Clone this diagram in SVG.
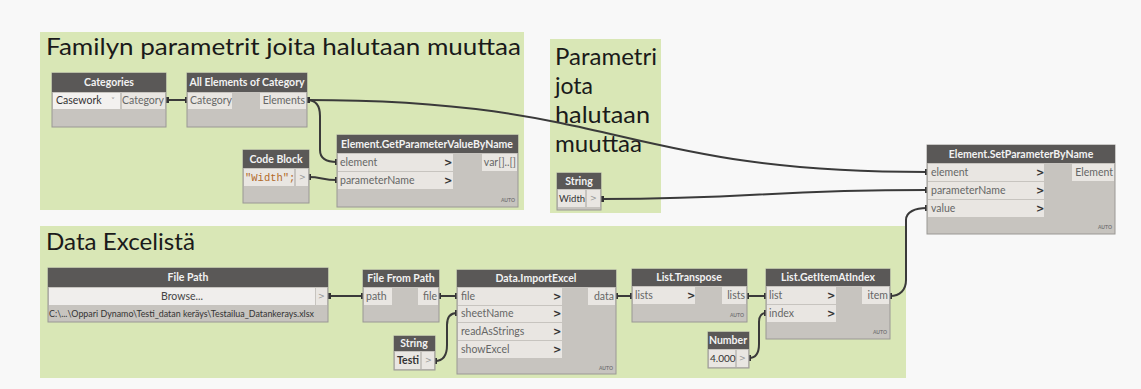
<svg xmlns="http://www.w3.org/2000/svg" width="1141" height="389" viewBox="0 0 1141 389">
<style>
.grp{fill:#d9e7b6}
.gt{font-family:Lato,"Noto Sans",sans-serif;font-size:24px;fill:#1a1a1a}
.gp{font-family:Lato,"Noto Sans",sans-serif;font-size:23px;fill:#1a1a1a}
.nb{fill:#c7c4bf;stroke:#9a9894;stroke-width:1}
.nh{fill:#5a5857}
.ht{font-family:Lato,"Noto Sans",sans-serif;font-size:10.5px;font-weight:bold;fill:#f2f2f2;text-anchor:middle}
.pl{fill:#e9e6e2}
.pt{font-family:Lato,"Noto Sans",sans-serif;font-size:10.5px;fill:#666}
.ptr{font-family:Lato,"Noto Sans",sans-serif;font-size:10.5px;fill:#666;text-anchor:end}
.ch{font-family:"DejaVu Sans",sans-serif;font-size:10px;font-weight:bold;fill:#333}
.og{font-family:"DejaVu Sans",sans-serif;font-size:8px;fill:#999}
.au{font-family:Lato,sans-serif;font-size:5px;font-weight:bold;fill:#777;text-anchor:end}
.w{fill:none;stroke:#3a3a3a;stroke-width:2}
.pm{fill:#333}
</style>
<rect width="1141" height="389" fill="#f8f8f8"/>
<g id="groups">
<rect class="grp" x="40" y="32" width="484" height="178"/>
<text class="gt" x="46" y="55" textLength="475" lengthAdjust="spacingAndGlyphs">Familyn parametrit joita halutaan muuttaa</text>
<rect class="grp" x="550" y="39" width="111" height="174"/>
<text class="gp" x="555" y="65" textLength="102" lengthAdjust="spacingAndGlyphs">Parametri</text>
<text class="gp" x="555" y="94">jota</text>
<text class="gp" x="555" y="123" textLength="95" lengthAdjust="spacingAndGlyphs">halutaan</text>
<text class="gp" x="555" y="152" textLength="87" lengthAdjust="spacingAndGlyphs">muuttaa</text>
<rect class="grp" x="40" y="226" width="866" height="152"/>
<text class="gt" x="46" y="250" textLength="149" lengthAdjust="spacingAndGlyphs">Data Excelistä</text>
</g>
<g id="connectors">
<path class="w" d="M166,100 L187,100"/>
<path class="w" d="M307,100 C316,100 320,106 320,116 L320,150 C320,158 326,162 337,162"/>
<path class="w" d="M307,100 C620,100 620,172 927,172"/>
<path class="w" d="M308,177 C322,177 322,180 337,180"/>
<path class="w" d="M601,199 C760,199 760,190 927,190"/>
<path class="w" d="M890,296 C900,296 906,290 906,280 L906,220 C906,212 915,208 927,208"/>
<path class="w" d="M328,296 L363,296"/>
<path class="w" d="M439,296 L457,296"/>
<path class="w" d="M435,361 C443,361 447,355 447,345 L447,325 C447,316 451,313 457,313"/>
<path class="w" d="M616,296 L632,296"/>
<path class="w" d="M747,296 L766,296"/>
<path class="w" d="M749,358 C756,358 759,352 759,344 L759,322 C759,316 762,313 766,313"/>
<rect class="pm" x="166" y="97" width="3" height="6"/><rect class="pm" x="185" y="97" width="3" height="6"/>
<rect class="pm" x="307" y="97" width="3" height="6"/>
<rect class="pm" x="335" y="159" width="3" height="6"/><rect class="pm" x="335" y="177" width="3" height="6"/>
<rect class="pm" x="308" y="174" width="3" height="6"/>
<rect class="pm" x="601" y="196" width="3" height="6"/>
<rect class="pm" x="925" y="169" width="3" height="6"/><rect class="pm" x="925" y="187" width="3" height="6"/><rect class="pm" x="925" y="205" width="3" height="6"/>
<rect class="pm" x="889" y="293" width="3" height="6"/>
<rect class="pm" x="328" y="293" width="3" height="6"/><rect class="pm" x="361" y="293" width="3" height="6"/>
<rect class="pm" x="438" y="293" width="3" height="6"/><rect class="pm" x="455" y="293" width="3" height="6"/>
<rect class="pm" x="455" y="310" width="3" height="6"/><rect class="pm" x="434" y="358" width="3" height="6"/>
<rect class="pm" x="615" y="293" width="3" height="6"/><rect class="pm" x="630" y="293" width="3" height="6"/>
<rect class="pm" x="746" y="293" width="3" height="6"/><rect class="pm" x="764" y="293" width="3" height="6"/>
<rect class="pm" x="764" y="310" width="3" height="6"/><rect class="pm" x="748" y="355" width="3" height="6"/>
</g>
<g id="categories">
<rect class="nb" x="52" y="73" width="114" height="54"/>
<rect class="nh" x="52" y="73" width="114" height="19"/>
<text class="ht" x="109" y="86">Categories</text>
<rect x="53" y="93" width="67" height="16" fill="#f3f1ef"/>
<text class="pt" x="56" y="104" style="fill:#333">Casework</text>
<text class="og" x="111" y="104">˅</text>
<rect class="pl" x="122" y="93" width="43" height="16"/>
<text class="ptr" x="164" y="104">Category</text>
</g>
<g id="all-elements">
<rect class="nb" x="187" y="73" width="120" height="54"/>
<rect class="nh" x="187" y="73" width="120" height="19"/>
<text class="ht" x="247" y="86">All Elements of Category</text>
<rect class="pl" x="188" y="93" width="44" height="16"/>
<text class="pt" x="190" y="104">Category</text>
<rect class="pl" x="260" y="93" width="46" height="16"/>
<text class="ptr" x="305" y="104">Elements</text>
</g>
<g id="get-parameter">
<rect class="nb" x="337" y="135" width="181" height="72"/>
<rect class="nh" x="337" y="135" width="181" height="18"/>
<text class="ht" x="427" y="148">Element.GetParameterValueByName</text>
<rect class="pl" x="338" y="154" width="115" height="17"/>
<text class="pt" x="340" y="166">element</text><text class="ch" x="444" y="166">&gt;</text>
<rect class="pl" x="338" y="172" width="115" height="17"/>
<text class="pt" x="340" y="184">parameterName</text><text class="ch" x="444" y="184">&gt;</text>
<rect class="pl" x="482" y="154" width="35" height="17"/>
<text class="ptr" x="516" y="166">var[]..[]</text>
<text class="au" x="515" y="202">AUTO</text>
</g>
<g id="code-block">
<rect class="nb" x="243" y="150" width="66" height="53"/>
<rect class="nh" x="243" y="150" width="66" height="18"/>
<text class="ht" x="276" y="163">Code Block</text>
<rect class="pl" x="244" y="169" width="50" height="17"/>
<text x="245" y="181" style="font-family:'Liberation Mono',monospace;font-size:10.5px;fill:#b26a2a">"Width";</text>
<rect class="pl" x="296" y="169" width="12" height="17"/>
<text class="og" x="299" y="180">&gt;</text>
</g>
<g id="string-width">
<rect class="nb" x="557" y="173" width="44" height="37"/>
<rect class="nh" x="557" y="173" width="44" height="16"/>
<text class="ht" x="579" y="185">String</text>
<rect class="pl" x="558" y="190" width="27" height="17"/>
<text class="pt" x="559" y="202" style="fill:#333;font-size:9.5px">Width</text>
<rect class="pl" x="587" y="190" width="13" height="17"/>
<text class="og" x="590" y="201">&gt;</text>
</g>
<g id="set-parameter">
<rect class="nb" x="927" y="145" width="188" height="89"/>
<rect class="nh" x="927" y="145" width="188" height="18"/>
<text class="ht" x="1021" y="158">Element.SetParameterByName</text>
<rect class="pl" x="928" y="164" width="116" height="17"/>
<text class="pt" x="931" y="176">element</text><text class="ch" x="1036" y="176">&gt;</text>
<rect class="pl" x="928" y="182" width="116" height="17"/>
<text class="pt" x="931" y="194">parameterName</text><text class="ch" x="1036" y="194">&gt;</text>
<rect class="pl" x="928" y="200" width="116" height="17"/>
<text class="pt" x="931" y="212">value</text><text class="ch" x="1036" y="212">&gt;</text>
<rect class="pl" x="1072" y="164" width="42" height="17"/>
<text class="ptr" x="1113" y="176">Element</text>
<text class="au" x="1112" y="229">AUTO</text>
</g>
<g id="file-path">
<rect class="nb" x="48" y="268" width="280" height="54"/>
<rect class="nh" x="48" y="268" width="280" height="19"/>
<text class="ht" x="188" y="281">File Path</text>
<rect x="49" y="288" width="266" height="17" fill="#f0eeec"/>
<text class="pt" x="182" y="300" style="text-anchor:middle;fill:#444">Browse...</text>
<rect class="pl" x="316" y="288" width="11" height="17"/>
<text class="og" x="318" y="299">&gt;</text>
<text class="pt" x="49" y="317" style="font-size:9px;fill:#333" textLength="265" lengthAdjust="spacingAndGlyphs">C:\...\Oppari Dynamo\Testi_datan keräys\Testailua_Datankerays.xlsx</text>
</g>
<g id="file-from-path">
<rect class="nb" x="363" y="270" width="76" height="52"/>
<rect class="nh" x="363" y="270" width="76" height="17"/>
<text class="ht" x="401" y="282">File From Path</text>
<rect class="pl" x="364" y="288" width="28" height="17"/>
<text class="pt" x="366" y="300">path</text>
<rect class="pl" x="418" y="288" width="20" height="17"/>
<text class="ptr" x="437" y="300">file</text>
</g>
<g id="import-excel">
<rect class="nb" x="457" y="270" width="159" height="104"/>
<rect class="nh" x="457" y="270" width="159" height="17"/>
<text class="ht" x="536" y="282">Data.ImportExcel</text>
<rect class="pl" x="458" y="288" width="104" height="17"/>
<text class="pt" x="461" y="300">file</text><text class="ch" x="553" y="300">&gt;</text>
<rect class="pl" x="458" y="306" width="104" height="16"/>
<text class="pt" x="461" y="317">sheetName</text><text class="ch" x="553" y="317">&gt;</text>
<rect class="pl" x="458" y="323" width="104" height="17"/>
<text class="pt" x="461" y="335">readAsStrings</text><text class="ch" x="553" y="335">&gt;</text>
<rect class="pl" x="458" y="341" width="104" height="17"/>
<text class="pt" x="461" y="353">showExcel</text><text class="ch" x="553" y="353">&gt;</text>
<rect class="pl" x="588" y="288" width="27" height="17"/>
<text class="ptr" x="614" y="300">data</text>
<text class="au" x="613" y="370">AUTO</text>
</g>
<g id="string-testi">
<rect class="nb" x="394" y="336" width="41" height="34"/>
<rect class="nh" x="394" y="336" width="41" height="15"/>
<text class="ht" x="414" y="347">String</text>
<rect class="pl" x="395" y="352" width="25" height="17"/>
<text class="pt" x="397" y="364" style="fill:#333;font-weight:bold">Testi</text>
<rect class="pl" x="422" y="352" width="12" height="17"/>
<text class="og" x="425" y="363">&gt;</text>
</g>
<g id="transpose">
<rect class="nb" x="632" y="269" width="115" height="53"/>
<rect class="nh" x="632" y="269" width="115" height="17"/>
<text class="ht" x="689" y="281">List.Transpose</text>
<rect class="pl" x="633" y="287" width="62" height="17"/>
<text class="pt" x="635" y="299">lists</text><text class="ch" x="687" y="299">&gt;</text>
<rect class="pl" x="722" y="287" width="24" height="17"/>
<text class="ptr" x="745" y="299">lists</text>
<text class="au" x="744" y="317">AUTO</text>
</g>
<g id="get-item">
<rect class="nb" x="766" y="269" width="124" height="70"/>
<rect class="nh" x="766" y="269" width="124" height="17"/>
<text class="ht" x="828" y="281">List.GetItemAtIndex</text>
<rect class="pl" x="767" y="287" width="69" height="17"/>
<text class="pt" x="769" y="299">list</text><text class="ch" x="827" y="299">&gt;</text>
<rect class="pl" x="767" y="305" width="69" height="17"/>
<text class="pt" x="769" y="317">index</text><text class="ch" x="827" y="317">&gt;</text>
<rect class="pl" x="862" y="287" width="27" height="17"/>
<text class="ptr" x="888" y="299">item</text>
<text class="au" x="887" y="334">AUTO</text>
</g>
<g id="number">
<rect class="nb" x="708" y="332" width="41" height="36"/>
<rect class="nh" x="708" y="332" width="41" height="17"/>
<text class="ht" x="728" y="344">Number</text>
<rect class="pl" x="709" y="350" width="26" height="17"/>
<text class="pt" x="710" y="362" style="fill:#333;font-size:10px">4.000</text>
<rect class="pl" x="737" y="350" width="11" height="17"/>
<text class="og" x="739" y="361">&gt;</text>
</g>
</svg>
